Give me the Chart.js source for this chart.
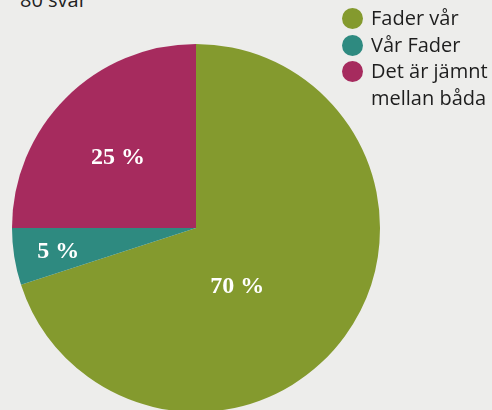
<!DOCTYPE html>
<html>
<head>
<meta charset="utf-8">
<script src="https://cdn.jsdelivr.net/npm/chart.js@4"></script>
<style>
  html, body { margin: 0; padding: 0; }
  body {
    width: 492px; height: 410px; overflow: hidden;
    background: #ededeb; position: relative;
    font-family: "Open Sans", "Noto Sans", sans-serif;
  }
  #title {
    position: absolute; left: 20px; top: -14px;
    font-size: 20px; color: #222;
  }
  #pieBox {
    position: absolute; left: 12px; top: 44px; width: 368px; height: 368px;
  }
  #legend {
    position: absolute; left: 342px; top: 5px; margin: 0; padding: 0;
    list-style: none; font-size: 20px; line-height: 26.5px; color: #1e1e1e;
  }
  #legend li { position: relative; padding-left: 29px; }
  #legend span.dot {
    position: absolute; left: 0; top: 3px; width: 21px; height: 21px; border-radius: 50%;
  }
</style>
</head>
<body>
<div id="title">80 svar</div>
<div id="pieBox"><canvas id="answerChart"></canvas></div>
<ul id="legend"></ul>
<script>
const categories = ['Fader vår', 'Vår Fader', ['Det är jämnt', 'mellan båda']];
const shares = [70, 5, 25];
const colors = ['#849a2e', '#2e8a80', '#a62b5e'];

// where each value label sits: fraction of radius, angle shift in degrees
const labelPlace = [[0.39, 19], [0.76, -1], [0.57, -3]];

const legend = document.getElementById('legend');
categories.forEach(function (name, i) {
  const li = document.createElement('li');
  const dot = document.createElement('span');
  dot.className = 'dot';
  dot.style.background = colors[i];
  li.appendChild(dot);
  const lines = Array.isArray(name) ? name : [name];
  lines.forEach(function (t, k) {
    if (k > 0) li.appendChild(document.createElement('br'));
    li.appendChild(document.createTextNode(t));
  });
  legend.appendChild(li);
});

const valueLabels = {
  id: 'valueLabels',
  afterDatasetsDraw(chart) {
    const ctx = chart.ctx;
    const meta = chart.getDatasetMeta(0);
    ctx.save();
    ctx.fillStyle = '#ffffff';
    ctx.font = 'bold 24px "Liberation Serif", "DejaVu Serif", serif';
    ctx.textAlign = 'center';
    ctx.textBaseline = 'middle';
    meta.data.forEach(function (arc, i) {
      const p = arc.getProps(['x', 'y', 'startAngle', 'endAngle', 'outerRadius'], true);
      const mid = (p.startAngle + p.endAngle) / 2 + labelPlace[i][1] * Math.PI / 180;
      const r = p.outerRadius * labelPlace[i][0];
      ctx.fillText(shares[i] + ' %', p.x + Math.cos(mid) * r, p.y + Math.sin(mid) * r);
    });
    ctx.restore();
  }
};

const chart = new Chart(document.getElementById('answerChart'), {
  type: 'pie',
  data: {
    labels: categories.map(function (c) { return Array.isArray(c) ? c.join(' ') : c; }),
    datasets: [{
      data: shares,
      backgroundColor: colors,
      borderWidth: 0
    }]
  },
  options: {
    responsive: true,
    maintainAspectRatio: false,
    animation: false,
    layout: { padding: 0 },
    plugins: {
      legend: { display: false },
      tooltip: { enabled: false }
    }
  },
  plugins: [valueLabels]
});
</script>
</body>
</html>
